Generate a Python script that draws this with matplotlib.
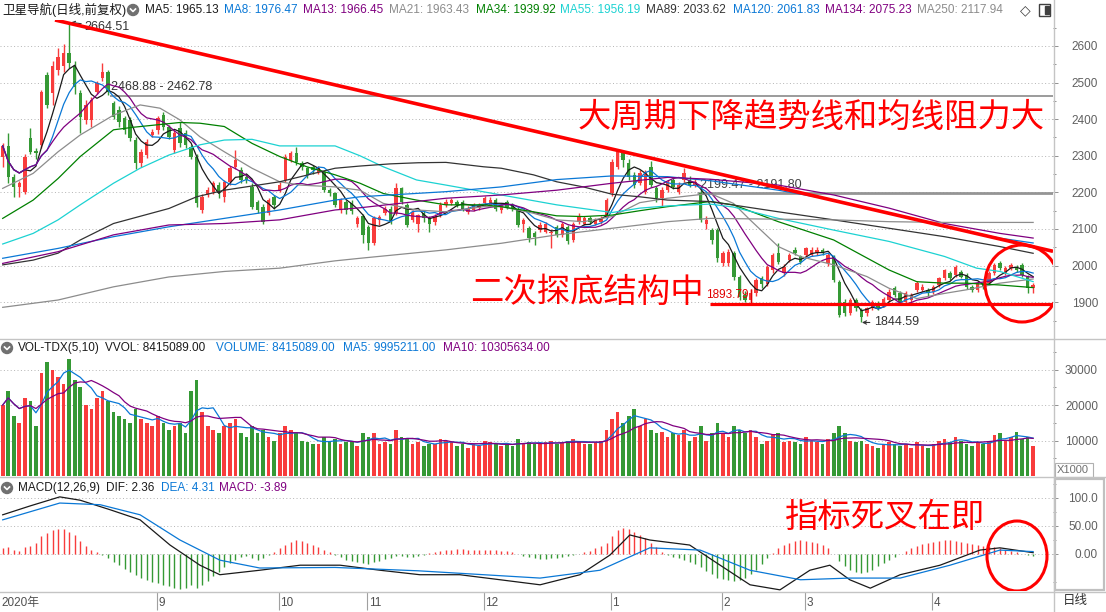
import numpy as np
import pandas as pd
import matplotlib
matplotlib.use("Agg")
import matplotlib.pyplot as plt
from matplotlib.patches import Ellipse, Rectangle
from matplotlib.lines import Line2D

plt.rcParams['font.family'] = ['Liberation Sans', 'Noto Sans CJK SC', 'DejaVu Sans']

# ---------------- data ----------------
month_labels = ["2020年", "9", "10", "11", "12", "1", "2", "3", "4"]
month_starts = [0, 28, 50, 66, 87, 110, 130, 145, 168]

opens = [2298,2327,2243,2214,2202,2348,2312,2330,2521,2471,2534,2544,2580,2544,2471,2398,2398,2475,2512,2530,
         2443,2425,2402,2398,2343,2279,2302,2357,2370,2411,2380,2316,2375,2361,2325,2298,2152,2193,2202,2220,
         2188,2229,2270,2261,2243,2216,2175,2161,2143,2188,2207,2234,2289,2307,2279,2266,2270,2257,2257,2207,
         2197,2152,2175,2170,2115,2135,2106,2061,2124,2143,2156,2143,2211,2166,2125,2115,2143,2129,2120,2138,
         2166,2170,2175,2175,2147,2152,2157,2170,2166,2179,2152,2175,2166,2156,2115,2102,2088,2097,2093,2088,
         2106,2084,2106,2070,2120,2115,2129,2115,2120,2134,2197,2270,2307,2279,2248,2225,2202,2270,2211,2184,
         2207,2234,2202,2234,2234,2220,2197,2115,2097,2097,2006,2006,2034,1970,1920,1906,1925,1965,1950,1988,
         2034,1979,2015,2043,2025,2029,2029,2034,2043,2006,2025,1956,1901,1870,1906,1879,1870,1888,1897,1892,
         1906,1938,1924,1901,1906,1933,1933,1933,1929,1947,1965,1979,1974,1983,1974,1942,1933,1952,1952,1979,
         2006,1979,1993,1997,2002,1970,1938]
closes = [2327,2243,2216,2226,2298,2311,2307,2475,2439,2544,2571,2580,2553,2489,2407,2439,2452,2498,2530,2475,
          2407,2393,2370,2348,2279,2311,2339,2366,2402,2380,2352,2361,2334,2330,2298,2170,2188,2207,2225,2197,
          2229,2266,2289,2234,2234,2161,2152,2120,2179,2166,2220,2298,2307,2284,2270,2248,2261,2266,2207,2197,
          2166,2179,2152,2150,2129,2084,2061,2129,2134,2156,2120,2211,2175,2111,2147,2138,2129,2115,2134,2166,
          2175,2179,2166,2156,2156,2166,2166,2184,2179,2156,2166,2161,2157,2111,2125,2075,2079,2111,2115,2093,
          2084,2115,2066,2115,2134,2129,2120,2125,2129,2179,2284,2311,2289,2243,2220,2252,2257,2220,2184,2207,
          2229,2216,2220,2252,2220,2229,2124,2125,2070,2020,2034,2038,1970,1915,1906,1925,1960,1950,1997,2029,
          2011,1997,2029,2034,2011,2047,2043,2043,2034,2029,1961,1865,1870,1906,1883,1860,1883,1901,1883,1910,
          1929,1920,1901,1924,1920,1952,1942,1924,1942,1965,1988,1965,1997,1970,1942,1933,1952,1942,1979,2002,
          1993,1993,2002,1988,1974,1938,1947]
highs = [2335,2361,2250,2230,2305,2375,2320,2480,2530,2560,2595,2605,2664.51,2560,2480,2452,2460,2505,2553,2535,
         2450,2435,2410,2405,2350,2318,2345,2372,2410,2420,2385,2370,2393,2370,2330,2305,2195,2215,2230,2228,
         2235,2272,2316,2270,2250,2225,2180,2168,2185,2192,2228,2305,2312,2325,2285,2270,2275,2272,2262,2212,
         2202,2185,2180,2178,2135,2140,2110,2135,2138,2162,2162,2225,2215,2170,2152,2142,2150,2135,2140,2175,
         2182,2186,2180,2180,2162,2170,2172,2190,2188,2185,2170,2180,2170,2160,2130,2108,2095,2118,2120,2100,
         2112,2120,2112,2120,2145,2135,2135,2130,2135,2184,2290,2316,2315,2290,2255,2262,2262,2285,2218,2215,
         2235,2240,2228,2268,2245,2240,2215,2135,2102,2102,2040,2045,2040,1975,1930,1935,1965,1972,2002,2035,
         2061,2005,2035,2050,2030,2052,2050,2050,2048,2035,2030,1960,1910,1912,1912,1885,1888,1906,1902,1915,
         1935,1945,1930,1930,1925,1958,1950,1938,1948,1970,1992,1985,2002,1988,1980,1948,1958,1958,1985,2008,
         2012,1998,2006,2002,2008,1975,1952]
lows = [2270,2225,2188,2188,2195,2305,2290,2320,2430,2440,2520,2530,2540,2470,2361,2388,2380,2470,2505,2465,
        2400,2380,2360,2340,2265,2270,2295,2350,2360,2370,2345,2308,2325,2320,2290,2160,2145,2188,2195,2185,
        2175,2220,2265,2225,2225,2155,2145,2115,2138,2155,2200,2228,2282,2275,2262,2240,2250,2250,2200,2190,
        2160,2145,2140,2142,2105,2062,2043,2055,2110,2138,2115,2138,2168,2105,2120,2093,2120,2093,2112,2132,
        2160,2165,2160,2150,2142,2148,2152,2165,2160,2150,2145,2156,2150,2105,2093,2065,2057,2092,2088,2047,
        2078,2078,2060,2065,2115,2110,2115,2110,2115,2130,2190,2265,2270,2235,2212,2220,2195,2215,2175,2160,
        2200,2210,2195,2228,2215,2215,2118,2100,2060,2010,2000,2000,1962,1905,1900,1893.79,1918,1940,1945,1980,
        2005,1972,2010,2028,2005,2025,2025,2028,2028,2000,1955,1860,1862,1865,1875,1844.59,1862,1880,1878,1886,
        1900,1914,1895,1895,1900,1928,1928,1918,1922,1942,1960,1960,1968,1965,1935,1928,1928,1936,1948,1975,
        1988,1975,1988,1983,1968,1925,1925]
volumes = [20000,24000,17000,15000,22000,21000,14000,29000,32000,30000,28000,26000,33000,27000,25000,20000,19000,22000,24000,21000,
           18000,17000,16000,15000,19000,16000,15000,14000,17000,15000,13000,14000,15000,12000,24000,27000,18000,14000,13000,12000,
           14000,15000,16000,12000,11000,14000,12000,13000,11000,10000,12000,14000,13000,12000,10000,9500,9000,9000,11000,10000,
           10500,9000,9500,10000,8500,12000,11000,12000,9000,9500,9000,13000,11000,10500,9000,9500,8500,9000,9000,10500,
           10000,9500,8500,9000,8000,9000,8500,10000,9500,9000,8500,9000,8500,10500,9000,9500,9000,9000,9500,10000,
           9000,9500,10000,10500,9500,9000,9000,9500,10000,13000,16000,18000,15000,17000,19000,14000,16000,13000,12000,12500,
           11000,12000,11500,13000,10000,11000,14000,10000,12000,15000,12000,11000,14000,13000,12000,13000,11000,9000,10000,11500,
           12000,9500,10000,9500,9000,11000,10000,9500,9000,10500,12000,14000,12000,10000,9500,10000,9000,8500,8000,9000,
           9500,9000,8500,9000,8000,9500,8500,8000,9000,10000,10500,9500,11000,10000,9000,8500,9500,9000,10000,11500,
           12000,10000,11000,12500,10500,11000,8415]
macd_hist = [10,12,8,6,12,15,20,32,38,42,45,44,40,34,24,14,8,4,-2,-8,
             -14,-20,-26,-32,-38,-42,-46,-50,-52,-55,-58,-60,-62,-60,-56,-60,-55,-48,-40,-32,
             -24,-16,-10,-6,-4,-8,-10,-8,-2,4,10,16,22,25,24,20,16,12,8,4,
             -2,-6,-10,-12,-14,-16,-17,-15,-12,-9,-7,-3,-4,-6,-5,-3,-1,1,3,5,
             7,8,9,9,8,7,7,8,8,7,6,5,3,0,-3,-6,-8,-9,-9,-8,
             -7,-5,-4,-2,0,3,6,10,14,20,32,42,46,45,40,34,28,20,12,4,
             -2,-6,-8,-10,-14,-18,-24,-30,-36,-42,-44,-46,-48,-46,-42,-36,-28,-18,-8,2,
             10,16,20,24,25,24,22,20,16,10,0,-12,-22,-28,-32,-34,-32,-28,-22,-16,
             -10,-5,0,5,10,14,18,20,22,24,25,25,24,22,20,18,16,15,14,12,
             10,8,6,3,0,-2,-3.89]
dif_x = [0,5,10.3,14,19.4,24.8,30.2,35.6,39.2,46.4,53.7,60.9,68.1,75.3,82.5,89.8,97,104.2,109.6,113.2,116.8,124,129.5,134.9,140.3,145.7,149.3,152.9,156.6,162,169.2,176.4,180,186]
dif_y = [70,86,102,96,79,61,16,-20,-37,-29,-20,-20,-29,-37,-37,-46,-55,-37,-2,34,25,16,-20,-55,-64,-29,-20,-46,-61,-37,-20,7,11,2.36]
dea_x = [0,10.3,17.6,24.8,32,39.2,46.4,60,75,97,107.8,116.8,125.9,134.9,144,152.9,162,171,180,186]
dea_y = [61,91,88,70,25,-11,-25,-24,-30,-43,-29,11,7,-29,-46,-43,-43,-20,7,4.31]

ma21_x = [0,5.5,10,14,20,24.8,28.4,32,35.6,40,45,50,53.7,60,64.5,68.7,74.7,80,86.8,90,95.8,100,104.8,110,115,120,127.7,131.9,134.9,140,143.9,150,156,160,165,170,174,180,186]
ma21_y = [2211,2252,2311,2357,2411,2439,2430,2398,2352,2311,2266,2229,2220,2215,2206,2170,2152,2147,2161,2161,2143,2125,2120,2134,2172,2184,2197,2170,2125,2052,2025,2002,1970,1938,1910,1924,1934,1952,1963.43]
ma34_x = [0,5.5,10,14,20,23.6,32,35.6,40,45,50,54.9,60,64.5,68.7,74.7,80,86.8,90,95.8,100,104.8,110,115,120,127.7,131.9,140,150,160,165,170,174,180,186]
ma34_y = [2129,2179,2238,2298,2371,2378,2391,2389,2380,2334,2298,2270,2248,2225,2197,2179,2166,2166,2161,2147,2136,2134,2138,2150,2161,2175,2166,2120,2070,1988,1956,1952,1952,1947,1939.92]
ma55_x = [0,5.5,10,14,20,24.8,30,35.6,40,45,50,60,64.5,68.7,74.7,80,90,100,110,115,120,127.7,131.9,140,150,160,170,175.8,180,186]
ma55_y = [2059,2088,2125,2166,2225,2266,2302,2330,2343,2345,2327,2327,2300,2270,2234,2220,2193,2166,2145,2157,2163,2168,2160,2129,2097,2066,2025,1993,1984,1956.19]
ma89_x = [0,5.5,10,14,20,30,35,40,50,60,64.5,70,75,80,86.8,90,95.8,100,104.8,110,115,120,127.7,140,150,160,170,180,186]
ma89_y = [2002,2015,2034,2070,2115,2156,2188,2206,2229,2266,2272,2278,2281,2282,2270,2266,2248,2229,2215,2195,2188,2179,2175,2147,2125,2102,2079,2052,2033.62]
ma120_x = [0,10,20,30,40,50,60,64.5,70,80,90,100,110,120,127.7,140,150,160,170,180,186]
ma120_y = [2020,2047,2079,2106,2129,2152,2179,2188,2193,2202,2215,2235,2245,2243,2232,2206,2179,2143,2106,2075,2061.83]
ma134_x = [0,10,20,30,40,50,60,64.5,80,90,100,110,120,127.7,140,150,160,170,180,186]
ma134_y = [2006,2038,2084,2111,2115,2125,2152,2158,2184,2193,2206,2225,2241,2236,2220,2193,2157,2115,2088,2075.23]
ma250_x = [0,10,20,30,40,50,60,64.5,80,90,100,110,120,127.7,150,160,170,186]
ma250_y = [1886,1906,1942,1969,1984,1993,2013,2020,2043,2061,2084,2102,2120,2129,2125,2120,2118,2117.94]

legend_items = [("MA5: 1965.13", '#1a1a1a', 145), ("MA8: 1976.47", '#0a78d6', 224), ("MA13: 1966.45", '#800080', 303),
                ("MA21: 1963.43", '#8c8c8c', 389), ("MA34: 1939.92", '#008000', 476), ("MA55: 1956.19", '#1cd2d2', 560),
                ("MA89: 2033.62", '#333333', 646), ("MA120: 2061.83", '#0a78d6', 733), ("MA134: 2075.23", '#800080', 825),
                ("MA250: 2117.94", '#8c8c8c', 917)]

# ---------------- layout ----------------
W, H = 1106, 612
fig = plt.figure(figsize=(W / 100, H / 100), dpi=100)
fig.patch.set_facecolor('white')
PX0, PXS = 2.7, 5.54
XR = 1053
xlo, xhi = (0 - PX0) / PXS, (XR - PX0) / PXS

def add_ax(x0, y0, x1, y1):
    a = fig.add_axes([x0 / W, 1 - y1 / H, (x1 - x0) / W, (y1 - y0) / H])
    a.set_facecolor('none')
    for s in a.spines.values():
        s.set_visible(False)
    a.set_xlim(xlo, xhi)
    a.tick_params(axis='x', which='both', bottom=False, labelbottom=False)
    return a

def right_axis(a, major, labels, minor):
    a.yaxis.tick_right()
    a.set_yticks(major)
    a.set_yticklabels(labels)
    a.set_yticks(minor, minor=True)
    a.tick_params(axis='y', which='major', length=3.6, width=0.7, color='#909090',
                  labelsize=8.5, labelcolor='#606060', pad=28.8)
    a.tick_params(axis='y', which='minor', length=2.5, width=0.7, color='#909090')
    for t in a.get_yticklabels():
        t.set_ha('right')
    a.grid(True, axis='y', which='major', color='#b4b4b4', linestyle=(0, (1, 2.5)), lw=0.7)

RED, GREEN = '#f83c3c', '#359935'
n = len(closes)
idx = np.arange(n)
o = np.array(opens, float); c = np.array(closes, float)
hi = np.array(highs, float); lo = np.array(lows, float)
up = c >= o
cols = np.where(up, RED, GREEN)

# ---------------- price panel ----------------
axp = add_ax(0, 20, XR, 338)
axp.set_ylim(1802.2, 2671.0)
right_axis(axp, list(range(1900, 2601, 100)), [str(v) for v in range(1900, 2601, 100)],
           list(range(1850, 2651, 100)))

axp.vlines(idx, lo, hi, colors=cols, lw=1.0, zorder=3)
body = np.maximum(np.abs(c - o), 1.5)
axp.bar(idx, body, bottom=np.minimum(o, c), width=0.62, color=cols, zorder=3, linewidth=0)

cs = pd.Series(c)
axp.plot(idx, cs.rolling(5, min_periods=1).mean(), color='#1a1a1a', lw=0.9, zorder=4)
axp.plot(idx, cs.rolling(8, min_periods=1).mean(), color='#0a78d6', lw=0.9, zorder=4)
axp.plot(idx, cs.rolling(13, min_periods=1).mean(), color='#800080', lw=0.9, zorder=4)
axp.plot(ma21_x, ma21_y, color='#8c8c8c', lw=0.9, zorder=4)
axp.plot(ma34_x, ma34_y, color='#008000', lw=0.9, zorder=4)
axp.plot(ma55_x, ma55_y, color='#1cd2d2', lw=0.9, zorder=4)
axp.plot(ma89_x, ma89_y, color='#333333', lw=0.9, zorder=4)
axp.plot(ma120_x, ma120_y, color='#0a78d6', lw=0.9, zorder=4)
axp.plot(ma134_x, ma134_y, color='#800080', lw=0.9, zorder=4)
axp.plot(ma250_x, ma250_y, color='#8c8c8c', lw=0.9, zorder=4)

def px2i(px):
    return (px - PX0) / PXS

def py2p(py):
    return 2600 - (py - 46) / 0.366

# horizontal marker lines
axp.hlines(2464.5, px2i(110), xhi, color='#8a8a8a', lw=1.2, zorder=2)
axp.hlines(2197.5, px2i(697), xhi, color='#959595', lw=2.0, zorder=2)
axp.text(px2i(111), py2p(87), "2468.88 - 2462.78", fontsize=9, color='#333333', va='center', ha='left', zorder=2)
axp.text(px2i(700), py2p(185), "2199.47 - 2191.80", fontsize=9, color='#444444', va='center', ha='left', zorder=2)

# extreme labels
axp.annotate("2664.51", xy=(12.3, 2664.51), xytext=(px2i(84), py2p(27)), fontsize=9, color='#333333',
             va='center', ha='left', zorder=6,
             arrowprops=dict(arrowstyle='->', color='#333333', lw=0.8, shrinkA=0, shrinkB=0, mutation_scale=6))
axp.annotate("1844.59", xy=(155.1, 1844.59), xytext=(px2i(874), 1844.59), fontsize=9, color='#333333',
             va='center', ha='left', zorder=6,
             arrowprops=dict(arrowstyle='->', color='#333333', lw=0.8, shrinkA=1, shrinkB=0, mutation_scale=6))
axp.text(px2i(749), py2p(295), "1893.79", fontsize=8.5, color='#e00000', va='center', ha='right', zorder=6)
axp.vlines(px2i(750.5), py2p(303), py2p(289), color='#e00000', lw=1.0, zorder=6)

# hand-drawn annotations
axp.plot([px2i(55), xhi], [py2p(20), py2p(251.3)], color='#ff0000', lw=2.6, zorder=7, solid_capstyle='butt')
axp.hlines(py2p(304.3), px2i(710), xhi, color='#ff0000', lw=2.3, zorder=7)
axp.add_patch(Ellipse((px2i(1022), py2p(283.5)), 74 / PXS, 77 / 0.366, fill=False,
                      edgecolor='#ff0000', lw=2.2, zorder=8))
big = dict(fontsize=24, color='#ff0000', family=['Noto Sans CJK SC'], va='center', ha='left')
fig.text(578 / W, 1 - 117 / H, "大周期下降趋势线和均线阻力大", **big)
fig.text(470 / W, 1 - 292 / H, "二次探底结构中", **big)

# ---------------- volume panel ----------------
axv = add_ax(0, 339, XR, 476)
vs = 35.5 / 10000
axv.set_ylim(0, (476 - 339) / vs)
right_axis(axv, [10000, 20000, 30000], ["10000", "20000", "30000"], [5000, 15000, 25000, 35000])
vol = np.array(volumes, float)
axv.bar(idx, vol, width=0.66, color=cols, linewidth=0, zorder=3)
vser = pd.Series(vol)
axv.plot(idx, vser.rolling(5, min_periods=1).mean(), color='#0a78d6', lw=0.9, zorder=4)
axv.plot(idx, vser.rolling(10, min_periods=1).mean(), color='#800080', lw=0.9, zorder=4)

# ---------------- MACD panel ----------------
axm = add_ax(0, 478, XR, 591)
axm.set_ylim(-(591 - 554) / 0.56, (554 - 478) / 0.56)
right_axis(axm, [0, 50, 100], ["0.00", "50.00", "100.0"], [-50, 25, 75, 125])
hist = np.array(macd_hist, float)
axm.vlines(idx, 0, hist, colors=np.where(hist >= 0, RED, GREEN), lw=1.0, zorder=3)
axm.plot(dif_x, dif_y, color='#1a1a1a', lw=0.9, zorder=4)
axm.plot(dea_x, dea_y, color='#0a78d6', lw=0.9, zorder=4)
axm.add_patch(Ellipse((px2i(1017), 0 - 2 / 0.56), 60 / PXS, 70 / 0.56, fill=False,
                      edgecolor='#ff0000', lw=2.2, zorder=8))
fig.text(785 / W, 1 - 517 / H, "指标死叉在即", **big)

# ---------------- x axis row ----------------
axx = add_ax(0, 592, XR, 612)
axx.set_ylim(0, 1)
axx.set_yticks([])
for s, lab in zip(month_starts, month_labels):
    xpos = s - 0.2 if s > 0 else xlo
    if s > 0:
        axx.vlines(xpos, 0.1, 1.0, color='#a0a0a0', lw=0.8)
    axx.text(xpos + 0.25, 0.45, lab, fontsize=8.5, color='#505050', va='center', ha='left')

# ---------------- legends / frame ----------------
def ftxt(x, y, s, color='#1a1a1a', size=8.5, **kw):
    fig.text(x / W, 1 - y / H, s, fontsize=size, color=color, va='center', ha='left', **kw)

def icon(x, y):
    fig.add_artist(Ellipse((x / W, 1 - y / H), 11 / W, 11 / H, transform=fig.transFigure, color='#707070'))
    fig.add_artist(Line2D([(x - 2.5) / W, x / W, (x + 2.5) / W], [1 - (y - 1) / H, 1 - (y + 1.5) / H, 1 - (y - 1) / H],
                          transform=fig.transFigure, color='white', lw=1.2))

ftxt(2, 10, "卫星导航(日线,前复权)", size=9)
icon(133, 10)
for s, col, x in legend_items:
    ftxt(x, 10, s, col)
ftxt(1020, 10, "◇", '#404040', size=10, family=['DejaVu Sans'])
fig.add_artist(Rectangle((1039 / W, 1 - 16 / H), 11 / W, 12 / H, transform=fig.transFigure,
                         fill=False, edgecolor='#404040', lw=1.0))
fig.add_artist(Rectangle((1045 / W, 1 - 14 / H), 4 / W, 8 / H, transform=fig.transFigure, color='#404040'))

icon(7, 348)
ftxt(18, 348, "VOL-TDX(5,10)")
ftxt(105, 348, "VVOL: 8415089.00")
ftxt(216, 348, "VOLUME: 8415089.00", '#0a78d6')
ftxt(343, 348, "MA5: 9995211.00", '#0a78d6')
ftxt(443, 348, "MA10: 10305634.00", '#800080')

icon(7, 488)
ftxt(18, 488, "MACD(12,26,9)")
ftxt(106, 488, "DIF: 2.36")
ftxt(161, 488, "DEA: 4.31", '#0a78d6')
ftxt(219, 488, "MACD: -3.89", '#800080')

def fline(x0, y0, x1, y1, color='#c4c4c4', lw=1.0):
    fig.add_artist(Line2D([x0 / W, x1 / W], [1 - y0 / H, 1 - y1 / H], transform=fig.transFigure,
                          color=color, lw=lw))

fline(0, 338.5, W, 338.5)
fline(0, 477, W, 477)
fline(0, 591.5, W, 591.5)
fline(XR + 0.5, 0, XR + 0.5, H)
fig.add_artist(Rectangle((1055 / W, 1 - 477 / H), 38 / W, 14 / H, transform=fig.transFigure,
                         fill=False, edgecolor='#b0b0b0', lw=0.8))
ftxt(1057, 470, "X1000", '#707070', size=8)
fig.add_artist(Rectangle((1055 / W, 1 - 590 / H), 49 / W, 111 / H, transform=fig.transFigure,
                         fill=False, edgecolor='#c0c0c0', lw=1.6))
ftxt(1063, 601, "日线", '#303030', size=9)

fig.savefig("out.png", dpi=100, facecolor='white')
